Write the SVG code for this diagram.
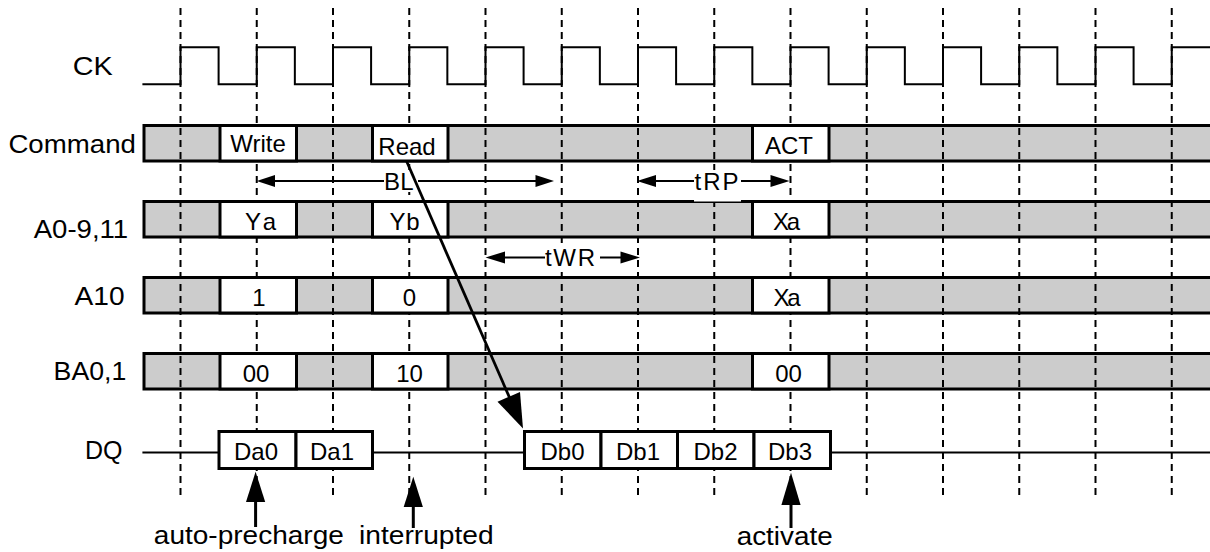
<svg xmlns="http://www.w3.org/2000/svg" width="1210" height="552" viewBox="0 0 1210 552">
<defs>
<style>
text{font-family:"Liberation Sans",Arial,Helvetica,sans-serif;font-size:24px;fill:#000}
.lbl{font-size:25px}
.c{text-anchor:middle}
.bar{fill:#cccccc;stroke:#000;stroke-width:3}
.box{fill:#fff;stroke:#000;stroke-width:3}
.grid{stroke:#000;stroke-width:2;stroke-dasharray:7 5;fill:none}
.thin{stroke:#000;stroke-width:2;fill:none}
.stem{stroke:#000;stroke-width:3;fill:none}
.ah{fill:#000;stroke:none}
.wbg{fill:#fff;stroke:none}
</style>
</defs>
<rect width="1210" height="552" fill="#fff"/>

<g id="labels">
<text class="lbl" x="72.7" y="75" textLength="40" lengthAdjust="spacingAndGlyphs">CK</text>
<text class="lbl" x="8.4" y="153" textLength="127.5" lengthAdjust="spacingAndGlyphs">Command</text>
<text class="lbl" x="33.7" y="238" textLength="94.5" lengthAdjust="spacingAndGlyphs">A0-9,11</text>
<text class="lbl" x="74.6" y="305" textLength="50" lengthAdjust="spacingAndGlyphs">A10</text>
<text class="lbl" x="53.6" y="380" textLength="72.7" lengthAdjust="spacingAndGlyphs">BA0,1</text>
<text class="lbl" x="85" y="459" textLength="37.5" lengthAdjust="spacingAndGlyphs">DQ</text>
</g>

<g id="ck">
<path class="thin" stroke-width="1.8" d="M142.4,84.3 H180.5 V47.3 H218.6 V84.3 H256.75 V47.3 H294.85 V84.3 H333 V47.3 H371.1 V84.3 H409.25 V47.3 H447.35 V84.3 H485.5 V47.3 H523.6 V84.3 H561.75 V47.3 H599.85 V84.3 H638 V47.3 H676.1 V84.3 H714.25 V47.3 H752.35 V84.3 H790.5 V47.3 H828.6 V84.3 H866.75 V47.3 H904.85 V84.3 H943 V47.3 H981.1 V84.3 H1019.25 V47.3 H1057.35 V84.3 H1095.5 V47.3 H1133.6 V84.3 H1171.75 V47.3 H1212"/>
</g>

<g id="bars">
<rect class="bar" x="144" y="125.5" width="1080" height="35.5"/>
<rect class="bar" x="144" y="201.5" width="1080" height="35.5"/>
<rect class="bar" x="144" y="277.5" width="1080" height="35.5"/>
<rect class="bar" x="144" y="353.5" width="1080" height="35.5"/>
<line class="thin" x1="142.4" y1="452.5" x2="1210" y2="452.5" stroke-width="2.5"/>
</g>

<g id="grid">
<path class="grid" d="M180.5,8V500 M256.75,8V500 M333,8V500 M409.25,8V500 M485.5,8V500 M561.75,8V500 M638,8V500 M714.25,8V500 M790.5,8V500 M866.75,8V500 M943,8V500 M1019.25,8V500 M1095.5,8V500 M1171.75,8V500"/>
</g>

<g id="command">
<rect class="box" x="220" y="125.5" width="76.5" height="35.5"/>
<text class="c" x="258" y="152">Write</text>
<rect class="box" x="372.5" y="125.5" width="75.5" height="35.5"/>
<text class="c" x="407" y="155">Read</text>
<rect class="box" x="752.5" y="125.5" width="76.5" height="35.5"/>
<text class="c" x="789" y="154">ACT</text>
</g>

<g id="addr">
<rect class="box" x="220" y="201.5" width="76.5" height="35.5"/>
<text class="c" x="260.5" y="230" textLength="31" lengthAdjust="spacing">Ya</text>
<rect class="box" x="372.5" y="201.5" width="75.5" height="35.5"/>
<text class="c" x="404.5" y="230" textLength="30" lengthAdjust="spacing">Yb</text>
<rect class="box" x="752.5" y="201.5" width="76.5" height="35.5"/>
<text class="c" x="786.5" y="230" textLength="27" lengthAdjust="spacing">Xa</text>
</g>

<g id="a10">
<rect class="box" x="220" y="277.5" width="76.5" height="35.5"/>
<text class="c" x="259" y="306">1</text>
<rect class="box" x="372.5" y="277.5" width="75.5" height="35.5"/>
<text class="c" x="409.5" y="306">0</text>
<rect class="box" x="752.5" y="277.5" width="76.5" height="35.5"/>
<text class="c" x="787" y="306" textLength="27" lengthAdjust="spacing">Xa</text>
</g>

<g id="ba">
<rect class="box" x="220" y="353.5" width="76.5" height="35.5"/>
<text class="c" x="256" y="382">00</text>
<rect class="box" x="372.5" y="353.5" width="75.5" height="35.5"/>
<text class="c" x="409.5" y="382">10</text>
<rect class="box" x="752.5" y="353.5" width="76.5" height="35.5"/>
<text class="c" x="788.5" y="382">00</text>
</g>

<g id="dq">
<rect class="box" x="219" y="431.5" width="77" height="37"/>
<text class="c" x="256" y="460">Da0</text>
<rect class="box" x="296" y="431.5" width="76.5" height="37"/>
<text class="c" x="332" y="460">Da1</text>
<rect class="box" x="524.5" y="431.5" width="76.5" height="37"/>
<text class="c" x="562.5" y="460">Db0</text>
<rect class="box" x="601" y="431.5" width="76.5" height="37"/>
<text class="c" x="638" y="460">Db1</text>
<rect class="box" x="677.5" y="431.5" width="76.5" height="37"/>
<text class="c" x="715.5" y="460">Db2</text>
<rect class="box" x="754" y="431.5" width="76.5" height="37"/>
<text class="c" x="790" y="460">Db3</text>
</g>

<g id="timing">
<rect class="wbg" x="383" y="170" width="34" height="22"/>
<path class="thin" d="M270,181 H384 M418,181 H540"/>
<polygon class="ah" points="256.75,181 275,175 275,187"/>
<polygon class="ah" points="554,181 535.5,175 535.5,187"/>
<text x="384" y="190" textLength="29.5" lengthAdjust="spacing">BL</text>

<path class="thin" d="M650,181 H776"/>
<polygon class="ah" points="637,181 656,175 656,187"/>
<polygon class="ah" points="789.5,181 770.5,175 770.5,187"/>
<rect class="wbg" x="694" y="170" width="47" height="31.5"/>
<text x="694.5" y="190" textLength="44" lengthAdjust="spacing">tRP</text>

<rect class="wbg" x="544" y="246" width="54" height="22"/>
<path class="thin" d="M500,257.5 H545 M600,257.5 H625"/>
<polygon class="ah" points="485.5,257.5 505,251.5 505,263.5"/>
<polygon class="ah" points="640,257.5 620.5,251.5 620.5,263.5"/>
<text x="545" y="266" textLength="50" lengthAdjust="spacing">tWR</text>
</g>

<g id="connectors">
<line x1="406.5" y1="161" x2="511" y2="401" stroke="#000" stroke-width="2.8"/>
<polygon class="ah" points="523,428.5 497.5,401.7 520,392"/>

<line class="stem" x1="255.6" y1="500" x2="255.6" y2="527"/>
<polygon class="ah" points="255.6,471.7 246,502 265.2,502"/>
<line class="stem" x1="413.3" y1="505" x2="413.3" y2="528"/>
<polygon class="ah" points="413.3,476.7 403.7,507 422.9,507"/>
<line class="stem" x1="791" y1="503" x2="791" y2="528"/>
<polygon class="ah" points="791,472.7 781.4,505 800.6,505"/>
</g>

<g id="notes">
<text class="lbl" x="153.8" y="544" textLength="190" lengthAdjust="spacingAndGlyphs">auto-precharge</text>
<text class="lbl" x="359" y="544" textLength="134.7" lengthAdjust="spacingAndGlyphs">interrupted</text>
<text class="lbl" x="736.7" y="545" textLength="96" lengthAdjust="spacingAndGlyphs">activate</text>
</g>
</svg>
